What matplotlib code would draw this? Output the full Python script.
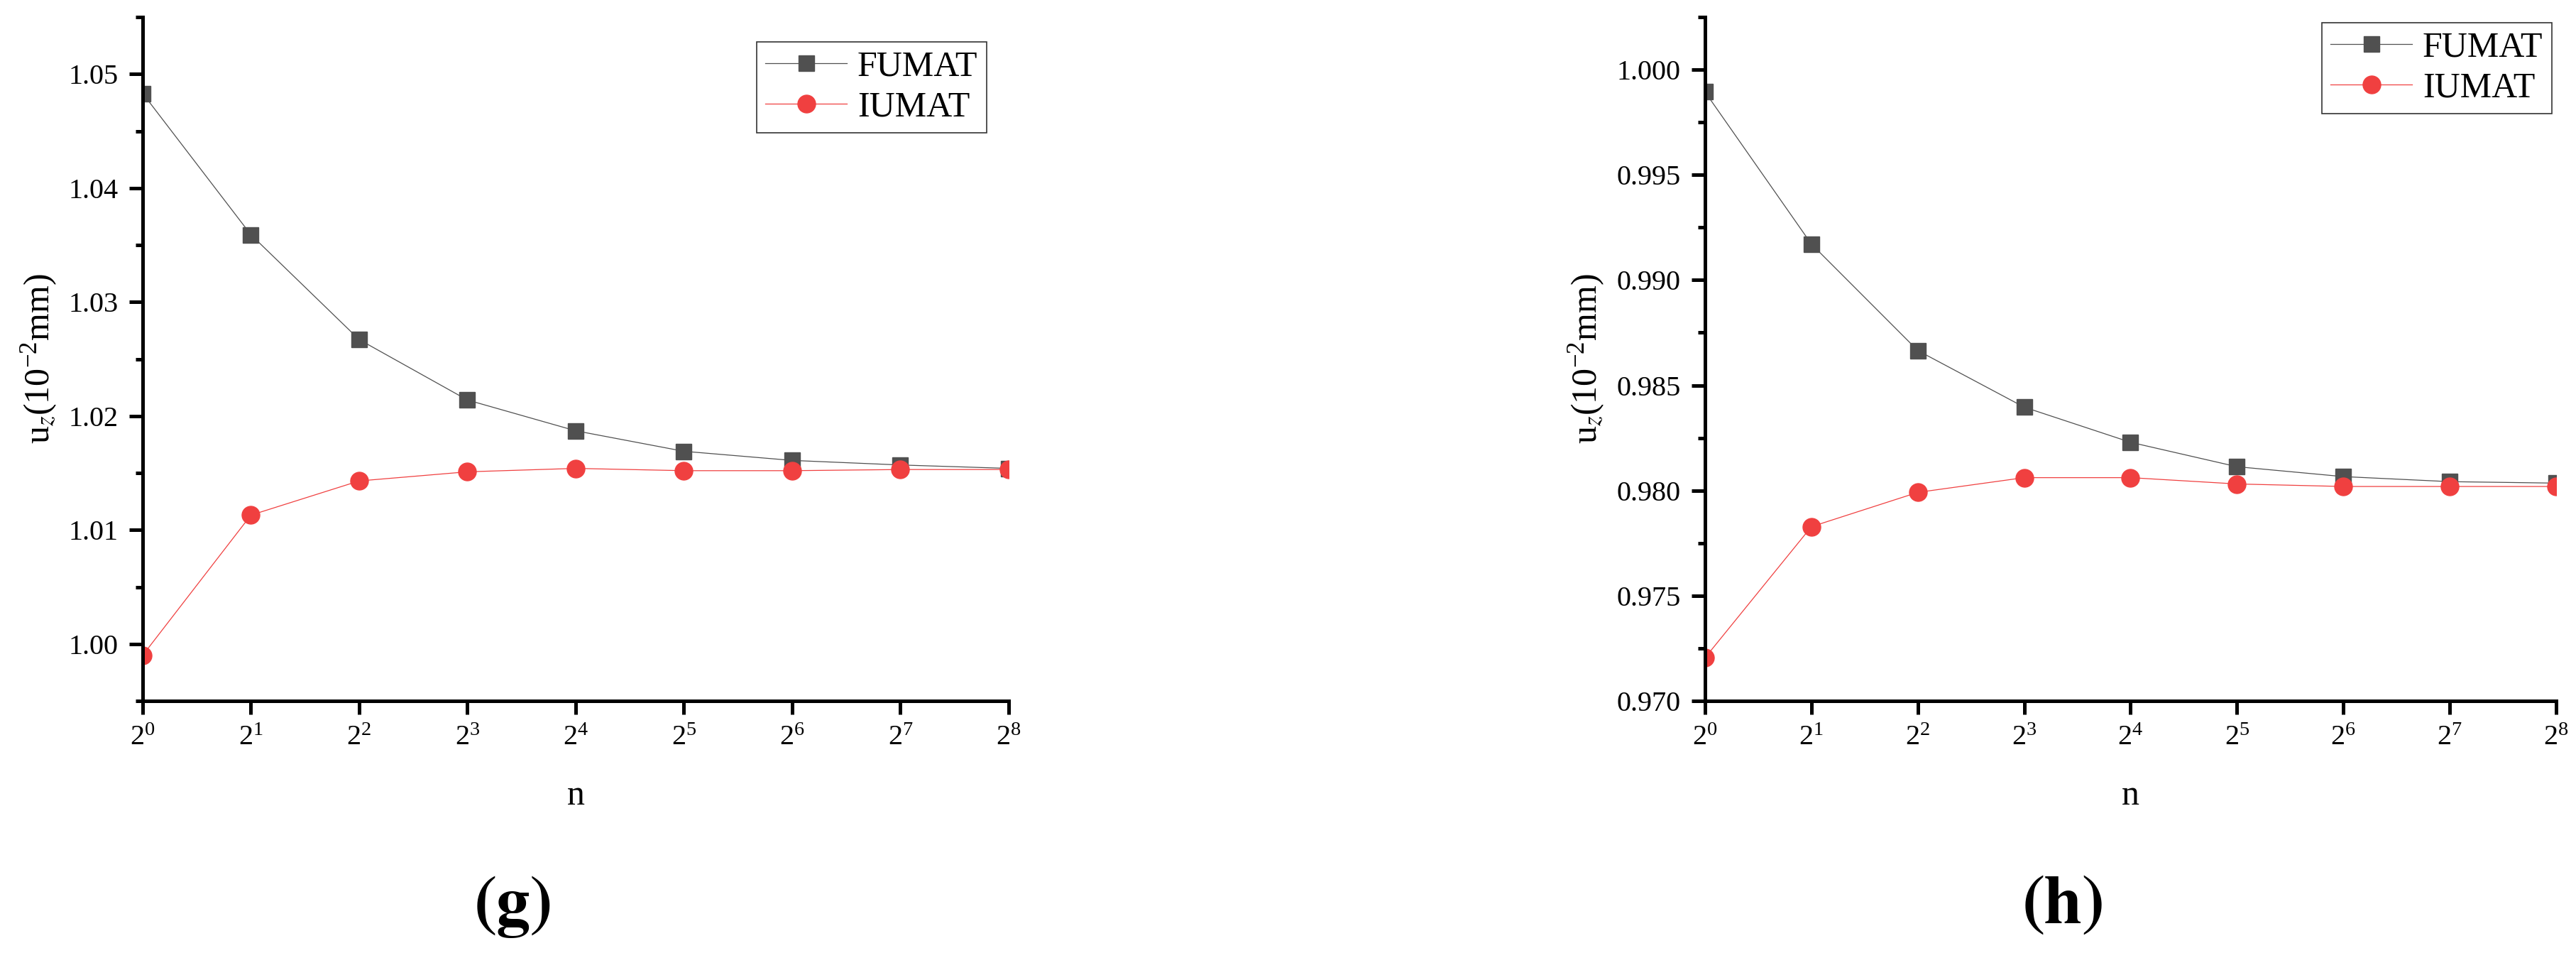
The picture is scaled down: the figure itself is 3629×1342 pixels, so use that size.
import numpy as np
import matplotlib
matplotlib.use('Agg')
import matplotlib.pyplot as plt
from matplotlib.ticker import FixedLocator, MultipleLocator, NullLocator, FuncFormatter

plt.rcParams['font.family'] = ['Liberation Serif', 'DejaVu Serif']
plt.rcParams['mathtext.fontset'] = 'stix'
plt.rcParams['mathtext.default'] = 'regular'

# n = 2^0 ... 2^8
n = [1, 2, 4, 8, 16, 32, 64, 128, 256]

# panel (g)
fumat_g = [1.0483, 1.0359, 1.0267, 1.0214, 1.0187, 1.0169, 1.0161, 1.0157, 1.0154]
iumat_g = [0.9990, 1.0113, 1.0143, 1.0151, 1.0154, 1.0152, 1.0152, 1.0153, 1.0153]

# panel (h)
fumat_h = [0.99894, 0.99171, 0.98665, 0.98396, 0.98229, 0.98113, 0.98066, 0.98042, 0.98035]
iumat_h = [0.97205, 0.97828, 0.97991, 0.98061, 0.98061, 0.98031, 0.98019, 0.98019, 0.98019]

gray = '#505050'
red = '#f04040'

fig = plt.figure(figsize=(36.3, 13.42), dpi=100)
ax_g = fig.add_axes([201/3630, 1-987/1342, 1220/3630, 963/1342])
ax_h = fig.add_axes([2402/3630, 1-987/1342, 1199/3630, 963/1342])

panels = [
    (ax_g, fumat_g, iumat_g, (0.995, 1.055), 0.01, '%.2f', (0.9746, 0.9637), '(g)', 723),
    (ax_h, fumat_h, iumat_h, (0.970, 1.0025), 0.005, '%.3f', (0.995, 0.9917), '(h)', 2907),
]

for ax, fu, iu, ylim, step, fmt, leg_at, tag, tag_x in panels:
    ax.plot(n, fu, color=gray, lw=0.9, marker='s', ms=16.5, mfc=gray, mec=gray, label='FUMAT')
    ax.plot(n, iu, color=red, lw=0.9, marker='o', ms=18, mfc=red, mec=red, label='IUMAT')

    ax.set_xscale('log', base=2)
    ax.set_xlim(1, 256)
    ax.xaxis.set_major_locator(FixedLocator(n))
    ax.xaxis.set_minor_locator(NullLocator())
    ax.xaxis.set_major_formatter(FuncFormatter(lambda v, p: '$2^{%d}$' % int(round(np.log2(v)))))

    ax.set_ylim(*ylim)
    ax.yaxis.set_major_locator(MultipleLocator(step))
    ax.yaxis.set_minor_locator(MultipleLocator(step / 2))
    ax.yaxis.set_major_formatter(FuncFormatter(lambda v, p, f=fmt: f % v))

    for s in ['top', 'right']:
        ax.spines[s].set_visible(False)
    for s in ['left', 'bottom']:
        ax.spines[s].set_linewidth(3.6)

    ax.tick_params(which='major', direction='out', length=13.7, width=3.6, labelsize=29, pad=11)
    ax.tick_params(which='minor', direction='out', length=7, width=3.6)

    ax.set_xlabel('n', fontsize=36, labelpad=28)
    ax.set_ylabel(r'u$_{\mathit{z}}$(10$^{-2}$mm)', fontsize=36, labelpad=10)

    leg = ax.legend(loc='upper right', bbox_to_anchor=leg_at, borderaxespad=0,
                    fontsize=36, frameon=True, fancybox=False, edgecolor='black',
                    handlelength=2.3, handletextpad=0.3, labelspacing=0.2, borderpad=0.25)
    leg.get_frame().set_linewidth(1.2)

    fig.text(tag_x/3630, 1-1277/1342, tag, fontsize=69, fontweight='bold',
             family='STIXGeneral', ha='center', va='center')

fig.savefig('out.png', dpi=100)
